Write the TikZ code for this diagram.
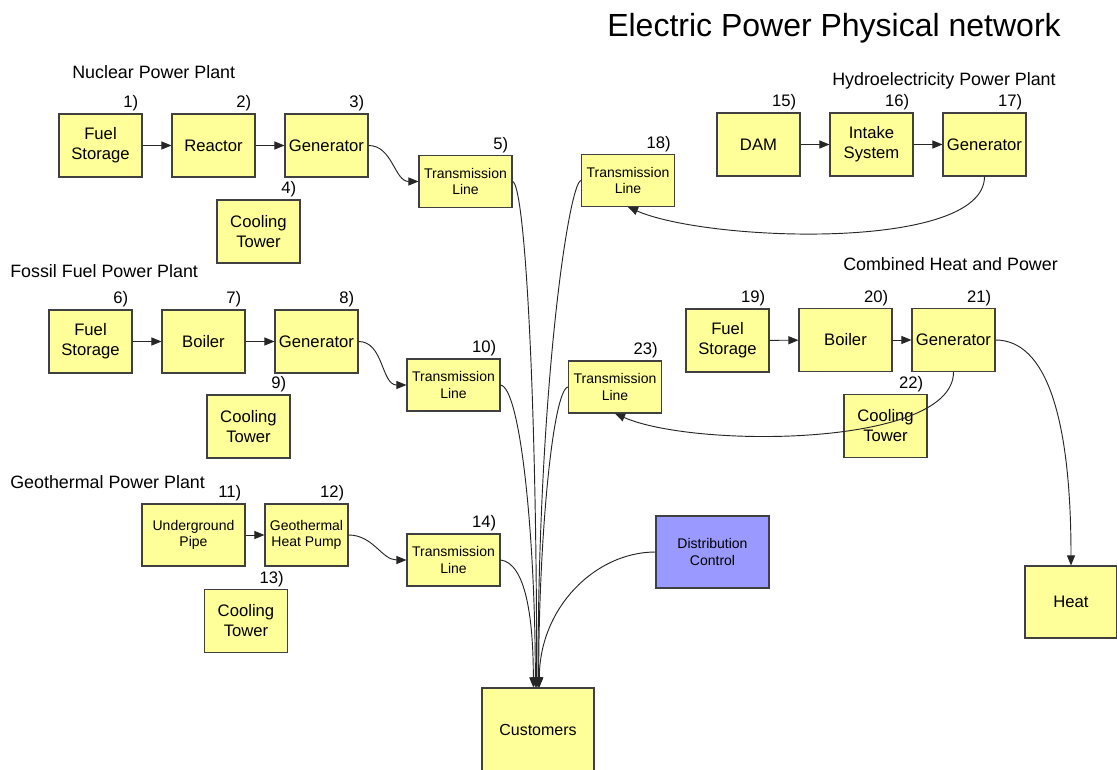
\documentclass[tikz,border=0pt]{standalone}
\usepackage{fontspec}
\setmainfont{Liberation Sans}
\usetikzlibrary{arrows.meta}
\definecolor{boxyellow}{HTML}{FFFF99}
\definecolor{ctrlblue}{HTML}{9999FF}
\definecolor{boxline}{HTML}{404040}
\begin{document}
\begin{tikzpicture}[x=0.75pt,y=-0.75pt,
  every node/.style={font=\fontsize{12.5}{15}\selectfont},
  unit/.style={draw=boxline,fill=boxyellow,line width=0.8pt,align=center,inner sep=0pt,
    minimum width=62.25pt,minimum height=47.25pt},
  tline/.style={unit,minimum width=69.75pt,minimum height=39pt,font=\fontsize{10.5}{12.5}\selectfont},
  small/.style={font=\fontsize{10.5}{12.5}\selectfont},
  num/.style={anchor=south east,inner sep=0pt,xshift=-3pt,yshift=1.5pt},
  group/.style={anchor=west,inner sep=0pt,font=\fontsize{13.4}{16}\selectfont},
  flow/.style={-{Triangle[length=7.5pt,width=6pt]},line width=0.7pt,black!85}]
 \clip (0,0) rectangle (1117,770);
 \node [font=\fontsize{24}{28}\selectfont] (title) at (834,28) {Electric Power Physical network};
 % nuclear
 \node [group] (nuclear) at (72,72) {Nuclear Power Plant};
 \node [unit,label={[num]north east:1)}] (fuel1) at (100.5,145.5) {Fuel\\Storage};
 \node [unit,label={[num]north east:2)}] (reactor2) at (213.5,145.5) {Reactor};
 \node [unit,label={[num]north east:3)}] (gen3) at (326.5,145.5) {Generator};
 \node [unit,label={[num]north east:4)}] (cool4) at (258.5,231.5) {Cooling\\Tower};
 \node [tline,label={[num]north east:5)}] (tl5) at (465.5,181.5) {Transmission\\Line};
 \node [tline,label={[num]north east:18)}] (tl18) at (628,180.5) {Transmission\\Line};
 % hydro
 \node [group] (hydro) at (832,81) {Hydroelectricity Power Plant};
 \node [unit,label={[num]north east:15)}] (dam15) at (758.5,144.5) {DAM};
 \node [unit,label={[num]north east:16)}] (intake16) at (871.5,144.5) {Intake\\System};
 \node [unit,label={[num]north east:17)}] (gen17) at (984.5,144.5) {Generator};
 % fossil
 \node [group] (fossil) at (10,271) {Fossil Fuel Power Plant};
 \node [unit,label={[num]north east:6)}] (fuel6) at (90.5,341.5) {Fuel\\Storage};
 \node [unit,label={[num]north east:7)}] (boiler7) at (203.5,341.5) {Boiler};
 \node [unit,label={[num]north east:8)}] (gen8) at (316.5,341.5) {Generator};
 \node [unit,label={[num]north east:9)}] (cool9) at (248.5,426.5) {Cooling\\Tower};
 \node [tline,label={[num]north east:10)}] (tl10) at (453.5,385) {Transmission\\Line};
 \node [tline,label={[num]north east:23)}] (tl23) at (615,387) {Transmission\\Line};
 % combined heat and power
 \node [group] (chp) at (843,264) {Combined Heat and Power};
 \node [unit,label={[num]north east:19)}] (fuel19) at (727.5,340.5) {Fuel\\Storage};
 \node [unit,minimum width=69.75pt,label={[num]north east:20)}] (boiler20) at (845.5,340) {Boiler};
 \node [unit,label={[num]north east:21)}] (gen21) at (953.5,340) {Generator};
 \node [unit,label={[num]north east:22)}] (cool22) at (885.5,426) {Cooling\\Tower};
 \node [unit,minimum width=69pt,minimum height=54pt] (heat) at (1071,602) {Heat};
 % geothermal
 \node [group] (geo) at (10,482) {Geothermal Power Plant};
 \node [unit,small,minimum width=77.25pt,minimum height=46.5pt,label={[num]north east:11)}] (pipe11) at (193.5,535) {Underground\\Pipe};
 \node [unit,small,minimum height=46.5pt,label={[num]north east:12)}] (pump12) at (306.5,535) {Geothermal\\Heat Pump};
 \node [unit,label={[num]north east:13)}] (cool13) at (246,621) {Cooling\\Tower};
 \node [tline,label={[num]north east:14)}] (tl14) at (453.5,560) {Transmission\\Line};
 % control and customers
 \node [unit,small,fill=ctrlblue,minimum width=84.75pt,minimum height=54pt] (dist) at (712.5,552) {Distribution\\Control};
 \node [unit,font=\fontsize{12}{14}\selectfont,minimum width=84pt,minimum height=63pt] (cust) at (538,730) {Customers};
 % connectors
 \draw [flow] (fuel1) -- (reactor2);
 \draw [flow] (reactor2) -- (gen3);
 \draw [flow] (gen3.east) to[out=0,in=180] (tl5.west);
 \draw [flow] (tl5.east) .. controls +(12,2) and +(0,-300) .. ([xshift=-1pt]cust.north);
 \draw [flow] (tl18.west) .. controls +(-12,2) and +(0,-300) .. (cust.north);
 \draw [flow] (dam15) -- (intake16);
 \draw [flow] (intake16) -- (gen17);
 \draw [flow] (gen17.south) .. controls +(0,75) and +(80,35) .. (tl18.south);
 \draw [flow] (fuel6) -- (boiler7);
 \draw [flow] (boiler7) -- (gen8);
 \draw [flow] (gen8.east) to[out=0,in=180] (tl10.west);
 \draw [flow] (tl10.east) .. controls +(20,3) and +(0,-150) .. ([xshift=-2pt]cust.north);
 \draw [flow] (tl23.west) .. controls +(-15,3) and +(0,-150) .. ([xshift=0.5pt]cust.north);
 \draw [flow] (fuel19) -- (boiler20);
 \draw [flow] (boiler20) -- (gen21);
 \draw [flow] (gen21.south) .. controls +(0,75) and +(80,35) .. (tl23.south);
 \draw [flow] (gen21.east) .. controls +(50,0) and +(0,-150) .. (heat.north);
 \draw [flow] (pipe11) -- (pump12);
 \draw [flow] (pump12.east) to[out=0,in=180] (tl14.west);
 \draw [flow] (tl14.east) .. controls +(25,3) and +(0,-70) .. ([xshift=-3.5pt]cust.north);
 \draw [flow] (dist.west) .. controls +(-60,0) and +(0,-80) .. ([xshift=1pt]cust.north);
\end{tikzpicture}
\end{document}
